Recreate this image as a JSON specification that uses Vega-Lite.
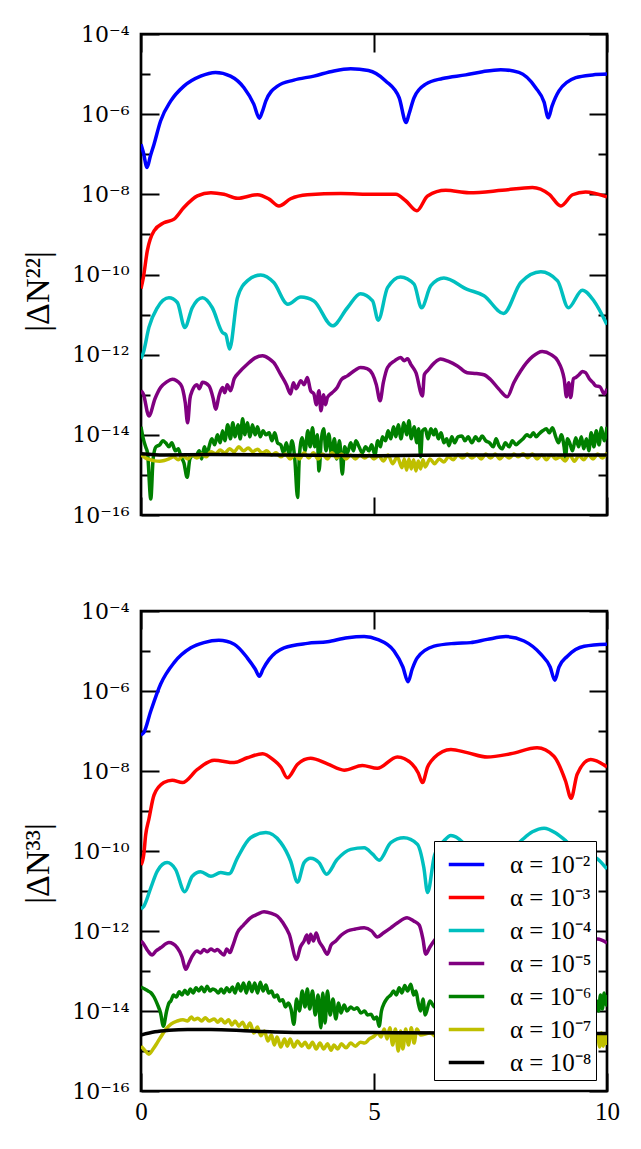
{
  "$schema": "https://vega.github.io/schema/vega-lite/v6.json",
  "background": "white",
  "padding": {"left": 20, "top": 21, "right": 5, "bottom": 5},
  "spacing": 70,
  "config": {
    "view": {"stroke": "black", "strokeWidth": 2.7},
    "axis": {"domain": false, "grid": false, "tickColor": "black", "tickWidth": 2, "labelFont": "Liberation Serif", "labelFontSize": 25, "labelColor": "black", "labelFlush": false, "labelOverlap": false, "titleFont": "Liberation Serif", "titleFontSize": 34, "titleFontWeight": "normal", "titleColor": "black", "zindex": 1},
    "legend": {"strokeColor": "black", "fillColor": "white", "labelColor": "black"}
  },
  "resolve": {"legend": {"color": "independent"}},
  "datasets": {
    "n22": [
      {"k":2,"x":0,"y":1.78e-7},{"k":2,"x":0.05,"y":1.12e-7},{"k":2,"x":0.13,"y":4.68e-8},{"k":2,"x":0.2,"y":8.91e-8},{"k":2,"x":0.28,"y":1.78e-7},{"k":2,"x":0.42,"y":6.76e-7},{"k":2,"x":0.64,"y":2.14e-6},{"k":2,"x":0.92,"y":5.01e-6},{"k":2,"x":1.28,"y":8.91e-6},{"k":2,"x":1.6,"y":1.10e-5},{"k":2,"x":1.92,"y":8.91e-6},{"k":2,"x":2.21,"y":4.57e-6},{"k":2,"x":2.42,"y":1.78e-6},{"k":2,"x":2.54,"y":7.94e-7},{"k":2,"x":2.6,"y":1.12e-6},{"k":2,"x":2.68,"y":2.14e-6},{"k":2,"x":2.93,"y":5.01e-6},{"k":2,"x":3.28,"y":7.08e-6},{"k":2,"x":3.71,"y":8.91e-6},{"k":2,"x":4.14,"y":1.20e-5},{"k":2,"x":4.5,"y":1.35e-5},{"k":2,"x":4.88,"y":1.23e-5},{"k":2,"x":5.25,"y":6.76e-6},{"k":2,"x":5.54,"y":2.57e-6},{"k":2,"x":5.69,"y":6.17e-7},{"k":2,"x":5.75,"y":1e-6},{"k":2,"x":5.86,"y":2.57e-6},{"k":2,"x":6.11,"y":5.62e-6},{"k":2,"x":6.47,"y":7.76e-6},{"k":2,"x":6.97,"y":9.55e-6},{"k":2,"x":7.33,"y":1.15e-5},{"k":2,"x":7.72,"y":1.29e-5},{"k":2,"x":8.11,"y":1.10e-5},{"k":2,"x":8.47,"y":4.57e-6},{"k":2,"x":8.65,"y":2.0e-6},{"k":2,"x":8.74,"y":8.13e-7},{"k":2,"x":8.82,"y":1.58e-6},{"k":2,"x":8.97,"y":3.80e-6},{"k":2,"x":9.33,"y":8.13e-6},{"k":2,"x":9.69,"y":9.55e-6},{"k":2,"x":10,"y":1e-5},
      {"k":3,"x":0,"y":4.47e-11},{"k":3,"x":0.05,"y":8.32e-11},{"k":3,"x":0.135,"y":3.89e-10},{"k":3,"x":0.28,"y":1.23e-9},{"k":3,"x":0.49,"y":1.95e-9},{"k":3,"x":0.71,"y":2.40e-9},{"k":3,"x":0.92,"y":4.68e-9},{"k":3,"x":1.21,"y":9.12e-9},{"k":3,"x":1.5,"y":1.10e-8},{"k":3,"x":1.78,"y":1e-8},{"k":3,"x":2.07,"y":7.94e-9},{"k":3,"x":2.5,"y":9.77e-9},{"k":3,"x":2.75,"y":7.59e-9},{"k":3,"x":2.96,"y":5.13e-9},{"k":3,"x":3.21,"y":7.76e-9},{"k":3,"x":3.57,"y":9.77e-9},{"k":3,"x":4.29,"y":1.05e-8},{"k":3,"x":5.0,"y":1e-8},{"k":3,"x":5.47,"y":1e-8},{"k":3,"x":5.68,"y":6.92e-9},{"k":3,"x":5.92,"y":3.89e-9},{"k":3,"x":6.15,"y":9.12e-9},{"k":3,"x":6.54,"y":1.26e-8},{"k":3,"x":7.04,"y":1.10e-8},{"k":3,"x":7.75,"y":1.26e-8},{"k":3,"x":8.4,"y":1.48e-8},{"k":3,"x":8.76,"y":1e-8},{"k":3,"x":9.01,"y":5.13e-9},{"k":3,"x":9.26,"y":9.77e-9},{"k":3,"x":9.54,"y":1.15e-8},{"k":3,"x":10,"y":8.71e-9},
      {"k":4,"x":0,"y":7.94e-13},{"k":4,"x":0.05,"y":1.12e-12},{"k":4,"x":0.17,"y":4.79e-12},{"k":4,"x":0.35,"y":1.48e-11},{"k":4,"x":0.6,"y":2.63e-11},{"k":4,"x":0.78,"y":2.0e-11},{"k":4,"x":0.94,"y":4.79e-12},{"k":4,"x":1.1,"y":1.48e-11},{"k":4,"x":1.32,"y":2.63e-11},{"k":4,"x":1.53,"y":1.48e-11},{"k":4,"x":1.75,"y":3.55e-12},{"k":4,"x":1.82,"y":3.16e-12},{"k":4,"x":1.9,"y":1.38e-12},{"k":4,"x":2.07,"y":2.63e-11},{"k":4,"x":2.28,"y":6.92e-11},{"k":4,"x":2.57,"y":9.77e-11},{"k":4,"x":2.85,"y":6.31e-11},{"k":4,"x":3.15,"y":1.82e-11},{"k":4,"x":3.43,"y":2.75e-11},{"k":4,"x":3.71,"y":2.19e-11},{"k":4,"x":4.11,"y":5.25e-12},{"k":4,"x":4.43,"y":1.48e-11},{"k":4,"x":4.71,"y":3.31e-11},{"k":4,"x":4.97,"y":2.19e-11},{"k":4,"x":5.09,"y":7.24e-12},{"k":4,"x":5.29,"y":4.68e-11},{"k":4,"x":5.57,"y":8.71e-11},{"k":4,"x":5.86,"y":5.75e-11},{"k":4,"x":6.02,"y":1.48e-11},{"k":4,"x":6.22,"y":5.25e-11},{"k":4,"x":6.5,"y":8.13e-11},{"k":4,"x":7.0,"y":4.27e-11},{"k":4,"x":7.36,"y":2.95e-11},{"k":4,"x":7.78,"y":1.07e-11},{"k":4,"x":8.15,"y":6.31e-11},{"k":4,"x":8.58,"y":1.17e-10},{"k":4,"x":8.94,"y":6.92e-11},{"k":4,"x":9.17,"y":1.48e-11},{"k":4,"x":9.47,"y":4.07e-11},{"k":4,"x":9.72,"y":2.19e-11},{"k":4,"x":10,"y":5.62e-12},
      {"k":5,"x":0,"y":1.26e-13},{"k":5,"x":0.05,"y":1.05e-13},{"k":5,"x":0.17,"y":2.95e-14},{"k":5,"x":0.3,"y":7.94e-14},{"k":5,"x":0.42,"y":1.51e-13},{"k":5,"x":0.55,"y":2.09e-13},{"k":5,"x":0.67,"y":2.45e-13},{"k":5,"x":0.85,"y":1.82e-13},{"k":5,"x":0.95,"y":6.31e-14},{"k":5,"x":1.0,"y":2.0e-14},{"k":5,"x":1.05,"y":7.94e-14},{"k":5,"x":1.1,"y":1.26e-13},{"k":5,"x":1.2,"y":1.78e-13},{"k":5,"x":1.25,"y":1.41e-13},{"k":5,"x":1.32,"y":2.04e-13},{"k":5,"x":1.46,"y":1.66e-13},{"k":5,"x":1.55,"y":7.94e-14},{"k":5,"x":1.6,"y":4.37e-14},{"k":5,"x":1.68,"y":1.0e-13},{"k":5,"x":1.75,"y":1.51e-13},{"k":5,"x":1.8,"y":1.12e-13},{"k":5,"x":1.85,"y":1.78e-13},{"k":5,"x":1.92,"y":1.26e-13},{"k":5,"x":2.0,"y":2.51e-13},{"k":5,"x":2.1,"y":3.55e-13},{"k":5,"x":2.28,"y":5.75e-13},{"k":5,"x":2.45,"y":8.32e-13},{"k":5,"x":2.61,"y":9.33e-13},{"k":5,"x":2.75,"y":7.94e-13},{"k":5,"x":2.85,"y":6.31e-13},{"k":5,"x":3.0,"y":3.16e-13},{"k":5,"x":3.12,"y":1.78e-13},{"k":5,"x":3.21,"y":1.05e-13},{"k":5,"x":3.27,"y":2.0e-13},{"k":5,"x":3.33,"y":1.41e-13},{"k":5,"x":3.43,"y":2.24e-13},{"k":5,"x":3.5,"y":1.78e-13},{"k":5,"x":3.57,"y":2.69e-13},{"k":5,"x":3.64,"y":1.26e-13},{"k":5,"x":3.71,"y":1.05e-13},{"k":5,"x":3.76,"y":5.62e-14},{"k":5,"x":3.82,"y":1.26e-13},{"k":5,"x":3.86,"y":3.98e-14},{"k":5,"x":3.92,"y":1.0e-13},{"k":5,"x":3.96,"y":5.62e-14},{"k":5,"x":4.0,"y":8.51e-14},{"k":5,"x":4.1,"y":1.12e-13},{"k":5,"x":4.21,"y":1.51e-13},{"k":5,"x":4.3,"y":2.40e-13},{"k":5,"x":4.43,"y":2.95e-13},{"k":5,"x":4.6,"y":4.17e-13},{"k":5,"x":4.71,"y":4.79e-13},{"k":5,"x":4.85,"y":4.47e-13},{"k":5,"x":4.97,"y":3.24e-13},{"k":5,"x":5.05,"y":1.78e-13},{"k":5,"x":5.13,"y":7.08e-14},{"k":5,"x":5.2,"y":2.0e-13},{"k":5,"x":5.29,"y":4.79e-13},{"k":5,"x":5.45,"y":7.08e-13},{"k":5,"x":5.57,"y":8.51e-13},{"k":5,"x":5.65,"y":7.08e-13},{"k":5,"x":5.72,"y":7.94e-13},{"k":5,"x":5.79,"y":5.75e-13},{"k":5,"x":5.9,"y":3.55e-13},{"k":5,"x":6.04,"y":9.33e-14},{"k":5,"x":6.08,"y":3.16e-13},{"k":5,"x":6.15,"y":3.98e-13},{"k":5,"x":6.3,"y":6.31e-13},{"k":5,"x":6.43,"y":7.76e-13},{"k":5,"x":6.6,"y":6.76e-13},{"k":5,"x":6.79,"y":5.25e-13},{"k":5,"x":7.0,"y":3.55e-13},{"k":5,"x":7.2,"y":3.39e-13},{"k":5,"x":7.36,"y":3.16e-13},{"k":5,"x":7.5,"y":2.40e-13},{"k":5,"x":7.68,"y":1.38e-13},{"k":5,"x":7.86,"y":8.91e-14},{"k":5,"x":8.0,"y":2.0e-13},{"k":5,"x":8.15,"y":3.98e-13},{"k":5,"x":8.4,"y":8.91e-13},{"k":5,"x":8.61,"y":1.20e-12},{"k":5,"x":8.8,"y":1.0e-12},{"k":5,"x":8.94,"y":7.08e-13},{"k":5,"x":9.08,"y":2.51e-13},{"k":5,"x":9.13,"y":8.91e-14},{"k":5,"x":9.18,"y":2.0e-13},{"k":5,"x":9.22,"y":8.51e-14},{"k":5,"x":9.28,"y":2.51e-13},{"k":5,"x":9.33,"y":2.69e-13},{"k":5,"x":9.4,"y":3.16e-13},{"k":5,"x":9.47,"y":3.80e-13},{"k":5,"x":9.54,"y":3.55e-13},{"k":5,"x":9.62,"y":2.51e-13},{"k":5,"x":9.7,"y":2.0e-13},{"k":5,"x":9.76,"y":1.66e-13},{"k":5,"x":9.85,"y":1.58e-13},{"k":5,"x":9.94,"y":1.05e-13},{"k":5,"x":10,"y":1.41e-13},
      {"k":6,"x":0,"y":1.58e-14},{"k":6,"x":0.05,"y":7.94e-15},{"k":6,"x":0.1,"y":5.01e-15},{"k":6,"x":0.14,"y":3.55e-15},{"k":6,"x":0.21,"y":2.51e-16},{"k":6,"x":0.26,"y":2.51e-15},{"k":6,"x":0.32,"y":5.01e-15},{"k":6,"x":0.4,"y":5.62e-15},{"k":6,"x":0.47,"y":7.08e-15},{"k":6,"x":0.53,"y":6.31e-15},{"k":6,"x":0.6,"y":5.01e-15},{"k":6,"x":0.66,"y":6.31e-15},{"k":6,"x":0.74,"y":3.98e-15},{"k":6,"x":0.8,"y":4.47e-15},{"k":6,"x":0.86,"y":2.82e-15},{"k":6,"x":0.92,"y":2.0e-15},{"k":6,"x":0.99,"y":8.71e-16},{"k":6,"x":1.05,"y":2.51e-15},{"k":6,"x":1.12,"y":3.16e-15},{"k":6,"x":1.17,"y":2.82e-15},{"k":6,"x":1.25,"y":3.98e-15},{"k":6,"x":1.3,"y":2.51e-15},{"k":6,"x":1.36,"y":5.01e-15},{"k":6,"x":1.42,"y":3.16e-15},{"k":6,"x":1.46,"y":5.01e-15},{"k":6,"x":1.52,"y":7.94e-15},{"k":6,"x":1.58,"y":5.62e-15},{"k":6,"x":1.64,"y":1.0e-14},{"k":6,"x":1.7,"y":6.31e-15},{"k":6,"x":1.75,"y":1.26e-14},{"k":6,"x":1.8,"y":7.08e-15},{"k":6,"x":1.86,"y":1.78e-14},{"k":6,"x":1.92,"y":7.94e-15},{"k":6,"x":1.97,"y":2.0e-14},{"k":6,"x":2.02,"y":8.91e-15},{"k":6,"x":2.08,"y":1.78e-14},{"k":6,"x":2.13,"y":7.94e-15},{"k":6,"x":2.18,"y":2.51e-14},{"k":6,"x":2.23,"y":1.0e-14},{"k":6,"x":2.28,"y":2.0e-14},{"k":6,"x":2.34,"y":8.91e-15},{"k":6,"x":2.39,"y":1.78e-14},{"k":6,"x":2.45,"y":1.0e-14},{"k":6,"x":2.5,"y":1.58e-14},{"k":6,"x":2.56,"y":8.91e-15},{"k":6,"x":2.62,"y":1.26e-14},{"k":6,"x":2.68,"y":1.0e-14},{"k":6,"x":2.75,"y":1.12e-14},{"k":6,"x":2.81,"y":7.08e-15},{"k":6,"x":2.87,"y":1.12e-14},{"k":6,"x":2.93,"y":6.31e-15},{"k":6,"x":3.0,"y":5.62e-15},{"k":6,"x":3.06,"y":3.55e-15},{"k":6,"x":3.12,"y":6.31e-15},{"k":6,"x":3.18,"y":3.16e-15},{"k":6,"x":3.24,"y":7.08e-15},{"k":6,"x":3.3,"y":2.51e-15},{"k":6,"x":3.36,"y":2.75e-16},{"k":6,"x":3.4,"y":3.16e-15},{"k":6,"x":3.46,"y":8.51e-15},{"k":6,"x":3.52,"y":3.98e-15},{"k":6,"x":3.58,"y":1.26e-14},{"k":6,"x":3.63,"y":5.01e-15},{"k":6,"x":3.68,"y":1.51e-14},{"k":6,"x":3.73,"y":5.01e-15},{"k":6,"x":3.78,"y":1.0e-14},{"k":6,"x":3.82,"y":1.26e-15},{"k":6,"x":3.87,"y":7.94e-15},{"k":6,"x":3.92,"y":1.41e-14},{"k":6,"x":3.97,"y":3.98e-15},{"k":6,"x":4.03,"y":1.05e-14},{"k":6,"x":4.09,"y":3.16e-15},{"k":6,"x":4.15,"y":7.94e-15},{"k":6,"x":4.2,"y":2.51e-15},{"k":6,"x":4.26,"y":7.08e-15},{"k":6,"x":4.32,"y":1.05e-15},{"k":6,"x":4.37,"y":5.01e-15},{"k":6,"x":4.43,"y":3.55e-15},{"k":6,"x":4.5,"y":6.31e-15},{"k":6,"x":4.56,"y":3.98e-15},{"k":6,"x":4.61,"y":7.08e-15},{"k":6,"x":4.68,"y":5.01e-15},{"k":6,"x":4.75,"y":3.55e-15},{"k":6,"x":4.82,"y":5.01e-15},{"k":6,"x":4.89,"y":3.98e-15},{"k":6,"x":4.95,"y":5.62e-15},{"k":6,"x":5.02,"y":3.16e-15},{"k":6,"x":5.08,"y":7.08e-15},{"k":6,"x":5.14,"y":5.01e-15},{"k":6,"x":5.18,"y":8.91e-15},{"k":6,"x":5.25,"y":7.08e-15},{"k":6,"x":5.3,"y":1.26e-14},{"k":6,"x":5.36,"y":7.94e-15},{"k":6,"x":5.42,"y":1.58e-14},{"k":6,"x":5.47,"y":8.91e-15},{"k":6,"x":5.52,"y":1.78e-14},{"k":6,"x":5.58,"y":7.94e-15},{"k":6,"x":5.64,"y":2.0e-14},{"k":6,"x":5.7,"y":1.0e-14},{"k":6,"x":5.75,"y":2.24e-14},{"k":6,"x":5.8,"y":7.94e-15},{"k":6,"x":5.86,"y":1.58e-14},{"k":6,"x":5.92,"y":6.31e-15},{"k":6,"x":5.96,"y":1.41e-14},{"k":6,"x":6.0,"y":2.82e-15},{"k":6,"x":6.04,"y":1.26e-14},{"k":6,"x":6.1,"y":1.41e-14},{"k":6,"x":6.16,"y":7.94e-15},{"k":6,"x":6.22,"y":1.41e-14},{"k":6,"x":6.28,"y":1.0e-14},{"k":6,"x":6.32,"y":1.38e-14},{"k":6,"x":6.38,"y":7.94e-15},{"k":6,"x":6.44,"y":1.12e-14},{"k":6,"x":6.5,"y":6.31e-15},{"k":6,"x":6.56,"y":7.94e-15},{"k":6,"x":6.61,"y":5.37e-15},{"k":6,"x":6.67,"y":8.91e-15},{"k":6,"x":6.73,"y":6.31e-15},{"k":6,"x":6.8,"y":8.91e-15},{"k":6,"x":6.89,"y":9.33e-15},{"k":6,"x":6.95,"y":7.08e-15},{"k":6,"x":7.02,"y":8.91e-15},{"k":6,"x":7.1,"y":6.31e-15},{"k":6,"x":7.18,"y":8.91e-15},{"k":6,"x":7.25,"y":7.08e-15},{"k":6,"x":7.32,"y":9.33e-15},{"k":6,"x":7.4,"y":7.08e-15},{"k":6,"x":7.48,"y":6.31e-15},{"k":6,"x":7.56,"y":5.01e-15},{"k":6,"x":7.62,"y":7.94e-15},{"k":6,"x":7.68,"y":5.37e-15},{"k":6,"x":7.75,"y":4.47e-15},{"k":6,"x":7.82,"y":6.31e-15},{"k":6,"x":7.9,"y":5.01e-15},{"k":6,"x":7.97,"y":7.08e-15},{"k":6,"x":8.05,"y":5.62e-15},{"k":6,"x":8.11,"y":6.46e-15},{"k":6,"x":8.2,"y":7.94e-15},{"k":6,"x":8.28,"y":1.0e-14},{"k":6,"x":8.35,"y":8.91e-15},{"k":6,"x":8.42,"y":1.12e-14},{"k":6,"x":8.48,"y":8.91e-15},{"k":6,"x":8.54,"y":1.05e-14},{"k":6,"x":8.62,"y":1.26e-14},{"k":6,"x":8.7,"y":1.41e-14},{"k":6,"x":8.76,"y":1.12e-14},{"k":6,"x":8.83,"y":1.51e-14},{"k":6,"x":8.9,"y":8.91e-15},{"k":6,"x":8.96,"y":6.31e-15},{"k":6,"x":9.02,"y":1.0e-14},{"k":6,"x":9.08,"y":5.01e-15},{"k":6,"x":9.11,"y":2.69e-15},{"k":6,"x":9.15,"y":7.94e-15},{"k":6,"x":9.2,"y":6.31e-15},{"k":6,"x":9.26,"y":3.98e-15},{"k":6,"x":9.33,"y":8.51e-15},{"k":6,"x":9.39,"y":5.01e-15},{"k":6,"x":9.45,"y":8.91e-15},{"k":6,"x":9.5,"y":4.47e-15},{"k":6,"x":9.56,"y":7.94e-15},{"k":6,"x":9.61,"y":3.98e-15},{"k":6,"x":9.66,"y":1.12e-14},{"k":6,"x":9.72,"y":5.01e-15},{"k":6,"x":9.77,"y":1.26e-14},{"k":6,"x":9.83,"y":5.62e-15},{"k":6,"x":9.88,"y":1.51e-14},{"k":6,"x":9.94,"y":7.08e-15},{"k":6,"x":10,"y":1.58e-14},
      {"k":7,"x":0,"y":3.16e-15},{"k":7,"x":0.1,"y":2.63e-15},{"k":7,"x":0.2,"y":2.40e-15},{"k":7,"x":0.3,"y":2.24e-15},{"k":7,"x":0.4,"y":2.19e-15},{"k":7,"x":0.5,"y":2.29e-15},{"k":7,"x":0.6,"y":2.51e-15},{"k":7,"x":0.7,"y":2.82e-15},{"k":7,"x":0.8,"y":2.40e-15},{"k":7,"x":0.9,"y":3.02e-15},{"k":7,"x":1.0,"y":2.51e-15},{"k":7,"x":1.1,"y":3.16e-15},{"k":7,"x":1.2,"y":2.63e-15},{"k":7,"x":1.3,"y":3.31e-15},{"k":7,"x":1.4,"y":2.82e-15},{"k":7,"x":1.5,"y":3.80e-15},{"k":7,"x":1.6,"y":3.39e-15},{"k":7,"x":1.7,"y":4.17e-15},{"k":7,"x":1.8,"y":3.55e-15},{"k":7,"x":1.9,"y":4.47e-15},{"k":7,"x":2.0,"y":3.80e-15},{"k":7,"x":2.1,"y":5.01e-15},{"k":7,"x":2.2,"y":3.98e-15},{"k":7,"x":2.3,"y":4.68e-15},{"k":7,"x":2.4,"y":3.80e-15},{"k":7,"x":2.5,"y":4.37e-15},{"k":7,"x":2.6,"y":3.55e-15},{"k":7,"x":2.7,"y":3.98e-15},{"k":7,"x":2.8,"y":3.16e-15},{"k":7,"x":2.9,"y":3.55e-15},{"k":7,"x":3.0,"y":2.82e-15},{"k":7,"x":3.1,"y":3.31e-15},{"k":7,"x":3.2,"y":2.51e-15},{"k":7,"x":3.3,"y":3.16e-15},{"k":7,"x":3.4,"y":2.51e-15},{"k":7,"x":3.5,"y":3.55e-15},{"k":7,"x":3.6,"y":2.63e-15},{"k":7,"x":3.7,"y":3.55e-15},{"k":7,"x":3.8,"y":2.51e-15},{"k":7,"x":3.9,"y":3.31e-15},{"k":7,"x":4.0,"y":2.51e-15},{"k":7,"x":4.1,"y":3.55e-15},{"k":7,"x":4.2,"y":2.63e-15},{"k":7,"x":4.3,"y":3.31e-15},{"k":7,"x":4.4,"y":2.51e-15},{"k":7,"x":4.5,"y":3.16e-15},{"k":7,"x":4.6,"y":2.51e-15},{"k":7,"x":4.7,"y":3.16e-15},{"k":7,"x":4.8,"y":2.63e-15},{"k":7,"x":4.9,"y":3.16e-15},{"k":7,"x":5.0,"y":2.51e-15},{"k":7,"x":5.1,"y":3.02e-15},{"k":7,"x":5.2,"y":2.24e-15},{"k":7,"x":5.3,"y":3.16e-15},{"k":7,"x":5.4,"y":1.91e-15},{"k":7,"x":5.5,"y":2.82e-15},{"k":7,"x":5.6,"y":1.51e-15},{"k":7,"x":5.65,"y":2.51e-15},{"k":7,"x":5.7,"y":1.32e-15},{"k":7,"x":5.75,"y":2.51e-15},{"k":7,"x":5.8,"y":1.41e-15},{"k":7,"x":5.85,"y":2.40e-15},{"k":7,"x":5.9,"y":1.26e-15},{"k":7,"x":5.95,"y":2.24e-15},{"k":7,"x":6.0,"y":1.41e-15},{"k":7,"x":6.05,"y":2.40e-15},{"k":7,"x":6.1,"y":1.58e-15},{"k":7,"x":6.2,"y":2.51e-15},{"k":7,"x":6.3,"y":1.91e-15},{"k":7,"x":6.4,"y":2.51e-15},{"k":7,"x":6.5,"y":2.09e-15},{"k":7,"x":6.6,"y":2.82e-15},{"k":7,"x":6.7,"y":2.40e-15},{"k":7,"x":6.8,"y":3.16e-15},{"k":7,"x":6.9,"y":2.63e-15},{"k":7,"x":7.0,"y":3.31e-15},{"k":7,"x":7.1,"y":2.63e-15},{"k":7,"x":7.2,"y":3.16e-15},{"k":7,"x":7.3,"y":2.51e-15},{"k":7,"x":7.4,"y":3.31e-15},{"k":7,"x":7.5,"y":2.63e-15},{"k":7,"x":7.6,"y":3.31e-15},{"k":7,"x":7.7,"y":2.51e-15},{"k":7,"x":7.8,"y":3.16e-15},{"k":7,"x":7.9,"y":2.63e-15},{"k":7,"x":8.0,"y":3.31e-15},{"k":7,"x":8.1,"y":2.82e-15},{"k":7,"x":8.2,"y":3.39e-15},{"k":7,"x":8.3,"y":2.69e-15},{"k":7,"x":8.4,"y":3.31e-15},{"k":7,"x":8.5,"y":2.51e-15},{"k":7,"x":8.6,"y":3.16e-15},{"k":7,"x":8.7,"y":2.40e-15},{"k":7,"x":8.8,"y":3.16e-15},{"k":7,"x":8.9,"y":2.51e-15},{"k":7,"x":9.0,"y":2.82e-15},{"k":7,"x":9.1,"y":2.24e-15},{"k":7,"x":9.2,"y":3.16e-15},{"k":7,"x":9.3,"y":2.19e-15},{"k":7,"x":9.4,"y":3.02e-15},{"k":7,"x":9.5,"y":2.40e-15},{"k":7,"x":9.6,"y":3.16e-15},{"k":7,"x":9.7,"y":2.51e-15},{"k":7,"x":9.8,"y":3.31e-15},{"k":7,"x":9.9,"y":2.63e-15},{"k":7,"x":10,"y":3.55e-15},
      {"k":8,"x":0,"y":3.39e-15},{"k":8,"x":0.5,"y":3.16e-15},{"k":8,"x":1.5,"y":3.24e-15},{"k":8,"x":3,"y":3.16e-15},{"k":8,"x":5,"y":3.02e-15},{"k":8,"x":7,"y":3.16e-15},{"k":8,"x":10,"y":3.16e-15}
    ],
    "n33": [
      {"k":2,"x":0,"y":7.94e-8},{"k":2,"x":0.06,"y":9.12e-8},{"k":2,"x":0.21,"y":3.16e-7},{"k":2,"x":0.42,"y":1.48e-6},{"k":2,"x":0.71,"y":5.13e-6},{"k":2,"x":1.07,"y":1.20e-5},{"k":2,"x":1.35,"y":1.62e-5},{"k":2,"x":1.67,"y":1.86e-5},{"k":2,"x":2.0,"y":1.48e-5},{"k":2,"x":2.28,"y":6.76e-6},{"k":2,"x":2.45,"y":3.55e-6},{"k":2,"x":2.54,"y":2.34e-6},{"k":2,"x":2.62,"y":3.55e-6},{"k":2,"x":2.75,"y":6.17e-6},{"k":2,"x":3.07,"y":1.20e-5},{"k":2,"x":3.57,"y":1.55e-5},{"k":2,"x":4.0,"y":1.70e-5},{"k":2,"x":4.43,"y":2.14e-5},{"k":2,"x":4.79,"y":2.29e-5},{"k":2,"x":5.07,"y":1.95e-5},{"k":2,"x":5.43,"y":1.0e-5},{"k":2,"x":5.62,"y":3.98e-6},{"k":2,"x":5.73,"y":1.70e-6},{"k":2,"x":5.82,"y":3.55e-6},{"k":2,"x":5.93,"y":6.76e-6},{"k":2,"x":6.29,"y":1.32e-5},{"k":2,"x":6.72,"y":1.55e-5},{"k":2,"x":7.07,"y":1.62e-5},{"k":2,"x":7.43,"y":1.95e-5},{"k":2,"x":7.83,"y":2.29e-5},{"k":2,"x":8.22,"y":1.78e-5},{"k":2,"x":8.58,"y":8.32e-6},{"k":2,"x":8.78,"y":3.98e-6},{"k":2,"x":8.88,"y":1.86e-6},{"k":2,"x":8.97,"y":3.98e-6},{"k":2,"x":9.15,"y":7.41e-6},{"k":2,"x":9.51,"y":1.32e-5},{"k":2,"x":10,"y":1.48e-5},
      {"k":3,"x":0,"y":4.47e-11},{"k":3,"x":0.06,"y":8.32e-11},{"k":3,"x":0.1,"y":2.51e-10},{"k":3,"x":0.17,"y":6.31e-10},{"k":3,"x":0.28,"y":2.51e-9},{"k":3,"x":0.49,"y":5.13e-9},{"k":3,"x":0.67,"y":5.89e-9},{"k":3,"x":0.89,"y":5.13e-9},{"k":3,"x":1.21,"y":1.10e-8},{"k":3,"x":1.57,"y":1.86e-8},{"k":3,"x":2.0,"y":1.62e-8},{"k":3,"x":2.28,"y":2.14e-8},{"k":3,"x":2.61,"y":2.69e-8},{"k":3,"x":2.85,"y":1.86e-8},{"k":3,"x":3.0,"y":1.26e-8},{"k":3,"x":3.14,"y":6.76e-9},{"k":3,"x":3.36,"y":1.48e-8},{"k":3,"x":3.64,"y":2.09e-8},{"k":3,"x":4.0,"y":1.51e-8},{"k":3,"x":4.36,"y":1.05e-8},{"k":3,"x":4.75,"y":1.38e-8},{"k":3,"x":5.07,"y":1.17e-8},{"k":3,"x":5.5,"y":2.24e-8},{"k":3,"x":5.82,"y":1.48e-8},{"k":3,"x":5.95,"y":8.91e-9},{"k":3,"x":6.04,"y":5.13e-9},{"k":3,"x":6.15,"y":1.26e-8},{"k":3,"x":6.29,"y":2.14e-8},{"k":3,"x":6.65,"y":3.47e-8},{"k":3,"x":7.0,"y":2.88e-8},{"k":3,"x":7.43,"y":2.24e-8},{"k":3,"x":7.93,"y":2.69e-8},{"k":3,"x":8.5,"y":3.80e-8},{"k":3,"x":8.86,"y":2.34e-8},{"k":3,"x":9.11,"y":5.62e-9},{"k":3,"x":9.23,"y":2.09e-9},{"k":3,"x":9.36,"y":8.32e-9},{"k":3,"x":9.65,"y":1.95e-8},{"k":3,"x":10,"y":1.26e-8},
      {"k":4,"x":0,"y":3.55e-12},{"k":4,"x":0.06,"y":4.17e-12},{"k":4,"x":0.21,"y":1.20e-11},{"k":4,"x":0.35,"y":3.16e-11},{"k":4,"x":0.56,"y":5.13e-11},{"k":4,"x":0.74,"y":3.47e-11},{"k":4,"x":0.94,"y":9.55e-12},{"k":4,"x":1.1,"y":2.34e-11},{"k":4,"x":1.28,"y":3.02e-11},{"k":4,"x":1.5,"y":2.34e-11},{"k":4,"x":1.71,"y":2.88e-11},{"k":4,"x":1.89,"y":2.69e-11},{"k":4,"x":2.07,"y":6.76e-11},{"k":4,"x":2.35,"y":2.14e-10},{"k":4,"x":2.68,"y":2.88e-10},{"k":4,"x":3.0,"y":1.62e-10},{"k":4,"x":3.21,"y":5.62e-11},{"k":4,"x":3.36,"y":1.66e-11},{"k":4,"x":3.5,"y":5.13e-11},{"k":4,"x":3.64,"y":6.61e-11},{"k":4,"x":3.82,"y":5.13e-11},{"k":4,"x":3.98,"y":2.63e-11},{"k":4,"x":4.21,"y":6.17e-11},{"k":4,"x":4.5,"y":1.10e-10},{"k":4,"x":4.79,"y":1.20e-10},{"k":4,"x":4.97,"y":8.32e-11},{"k":4,"x":5.11,"y":5.89e-11},{"k":4,"x":5.36,"y":1.62e-10},{"k":4,"x":5.64,"y":2.14e-10},{"k":4,"x":5.93,"y":1.48e-10},{"k":4,"x":6.07,"y":3.80e-11},{"k":4,"x":6.15,"y":9.12e-12},{"k":4,"x":6.3,"y":7.94e-11},{"k":4,"x":6.5,"y":1.78e-10},{"k":4,"x":6.65,"y":2.45e-10},{"k":4,"x":6.9,"y":1.66e-10},{"k":4,"x":7.15,"y":6.31e-11},{"k":4,"x":7.35,"y":3.16e-11},{"k":4,"x":7.6,"y":7.08e-11},{"k":4,"x":7.9,"y":1.0e-10},{"k":4,"x":8.15,"y":1.78e-10},{"k":4,"x":8.4,"y":3.02e-10},{"k":4,"x":8.65,"y":3.72e-10},{"k":4,"x":8.9,"y":2.82e-10},{"k":4,"x":9.12,"y":1.78e-10},{"k":4,"x":9.35,"y":1.0e-10},{"k":4,"x":9.55,"y":7.94e-11},{"k":4,"x":9.76,"y":6.76e-11},{"k":4,"x":9.94,"y":4.27e-11},{"k":4,"x":10,"y":3.55e-11},
      {"k":5,"x":0,"y":5.62e-13},{"k":5,"x":0.06,"y":4.68e-13},{"k":5,"x":0.15,"y":3.16e-13},{"k":5,"x":0.24,"y":2.51e-13},{"k":5,"x":0.32,"y":3.16e-13},{"k":5,"x":0.42,"y":3.80e-13},{"k":5,"x":0.6,"y":5.13e-13},{"k":5,"x":0.78,"y":3.80e-13},{"k":5,"x":0.88,"y":2.24e-13},{"k":5,"x":0.96,"y":1.10e-13},{"k":5,"x":1.03,"y":1.58e-13},{"k":5,"x":1.1,"y":2.34e-13},{"k":5,"x":1.2,"y":3.16e-13},{"k":5,"x":1.28,"y":2.82e-13},{"k":5,"x":1.35,"y":3.47e-13},{"k":5,"x":1.42,"y":3.02e-13},{"k":5,"x":1.5,"y":3.55e-13},{"k":5,"x":1.58,"y":3.16e-13},{"k":5,"x":1.64,"y":3.47e-13},{"k":5,"x":1.72,"y":2.82e-13},{"k":5,"x":1.78,"y":2.51e-13},{"k":5,"x":1.84,"y":3.55e-13},{"k":5,"x":1.91,"y":2.88e-13},{"k":5,"x":1.96,"y":3.98e-13},{"k":5,"x":2.07,"y":9.12e-13},{"k":5,"x":2.2,"y":1.41e-12},{"k":5,"x":2.35,"y":2.14e-12},{"k":5,"x":2.5,"y":2.63e-12},{"k":5,"x":2.64,"y":3.02e-12},{"k":5,"x":2.8,"y":2.75e-12},{"k":5,"x":2.93,"y":2.34e-12},{"k":5,"x":3.05,"y":1.58e-12},{"k":5,"x":3.18,"y":8.32e-13},{"k":5,"x":3.34,"y":1.95e-13},{"k":5,"x":3.42,"y":3.98e-13},{"k":5,"x":3.5,"y":5.62e-13},{"k":5,"x":3.56,"y":7.94e-13},{"k":5,"x":3.6,"y":5.01e-13},{"k":5,"x":3.64,"y":8.32e-13},{"k":5,"x":3.7,"y":5.62e-13},{"k":5,"x":3.76,"y":8.91e-13},{"k":5,"x":3.82,"y":5.62e-13},{"k":5,"x":3.9,"y":3.98e-13},{"k":5,"x":4.0,"y":2.63e-13},{"k":5,"x":4.08,"y":4.47e-13},{"k":5,"x":4.18,"y":5.62e-13},{"k":5,"x":4.3,"y":7.94e-13},{"k":5,"x":4.43,"y":1.0e-12},{"k":5,"x":4.6,"y":1.12e-12},{"k":5,"x":4.79,"y":1.20e-12},{"k":5,"x":4.95,"y":1.0e-12},{"k":5,"x":5.07,"y":7.08e-13},{"k":5,"x":5.2,"y":8.91e-13},{"k":5,"x":5.36,"y":1.20e-12},{"k":5,"x":5.5,"y":1.58e-12},{"k":5,"x":5.71,"y":2.14e-12},{"k":5,"x":5.85,"y":1.78e-12},{"k":5,"x":5.97,"y":1.41e-12},{"k":5,"x":6.05,"y":6.31e-13},{"k":5,"x":6.11,"y":2.63e-13},{"k":5,"x":6.2,"y":3.98e-13},{"k":5,"x":6.35,"y":7.08e-13},{"k":5,"x":6.6,"y":1.26e-12},{"k":5,"x":6.85,"y":1.12e-12},{"k":5,"x":7.1,"y":7.08e-13},{"k":5,"x":7.4,"y":3.55e-13},{"k":5,"x":7.7,"y":7.94e-13},{"k":5,"x":8.0,"y":1.41e-12},{"k":5,"x":8.3,"y":1.78e-12},{"k":5,"x":8.6,"y":2.0e-12},{"k":5,"x":8.85,"y":1.41e-12},{"k":5,"x":9.05,"y":7.94e-13},{"k":5,"x":9.3,"y":2.82e-13},{"k":5,"x":9.55,"y":5.62e-13},{"k":5,"x":9.8,"y":6.31e-13},{"k":5,"x":10,"y":5.01e-13},
      {"k":6,"x":0,"y":3.98e-14},{"k":6,"x":0.08,"y":3.55e-14},{"k":6,"x":0.15,"y":3.16e-14},{"k":6,"x":0.21,"y":2.88e-14},{"k":6,"x":0.28,"y":2.24e-14},{"k":6,"x":0.35,"y":1.48e-14},{"k":6,"x":0.42,"y":8.91e-15},{"k":6,"x":0.48,"y":4.17e-15},{"k":6,"x":0.55,"y":1.0e-14},{"k":6,"x":0.6,"y":1.58e-14},{"k":6,"x":0.64,"y":1.78e-14},{"k":6,"x":0.7,"y":2.51e-14},{"k":6,"x":0.76,"y":2.24e-14},{"k":6,"x":0.82,"y":3.02e-14},{"k":6,"x":0.88,"y":2.51e-14},{"k":6,"x":0.94,"y":3.31e-14},{"k":6,"x":1.0,"y":2.63e-14},{"k":6,"x":1.06,"y":3.55e-14},{"k":6,"x":1.12,"y":2.82e-14},{"k":6,"x":1.18,"y":3.80e-14},{"k":6,"x":1.24,"y":3.16e-14},{"k":6,"x":1.3,"y":3.98e-14},{"k":6,"x":1.36,"y":3.02e-14},{"k":6,"x":1.42,"y":4.17e-14},{"k":6,"x":1.48,"y":3.16e-14},{"k":6,"x":1.54,"y":3.55e-14},{"k":6,"x":1.6,"y":3.31e-14},{"k":6,"x":1.66,"y":2.82e-14},{"k":6,"x":1.72,"y":3.55e-14},{"k":6,"x":1.78,"y":2.82e-14},{"k":6,"x":1.84,"y":3.80e-14},{"k":6,"x":1.9,"y":3.02e-14},{"k":6,"x":1.96,"y":3.98e-14},{"k":6,"x":2.02,"y":2.82e-14},{"k":6,"x":2.08,"y":4.79e-14},{"k":6,"x":2.14,"y":3.16e-14},{"k":6,"x":2.2,"y":5.01e-14},{"k":6,"x":2.26,"y":2.82e-14},{"k":6,"x":2.32,"y":5.25e-14},{"k":6,"x":2.38,"y":3.02e-14},{"k":6,"x":2.44,"y":5.01e-14},{"k":6,"x":2.5,"y":2.82e-14},{"k":6,"x":2.56,"y":5.25e-14},{"k":6,"x":2.62,"y":3.16e-14},{"k":6,"x":2.68,"y":4.47e-14},{"k":6,"x":2.74,"y":2.82e-14},{"k":6,"x":2.8,"y":3.16e-14},{"k":6,"x":2.86,"y":2.24e-14},{"k":6,"x":2.92,"y":2.51e-14},{"k":6,"x":2.98,"y":1.78e-14},{"k":6,"x":3.04,"y":1.91e-14},{"k":6,"x":3.1,"y":1.26e-14},{"k":6,"x":3.16,"y":1.58e-14},{"k":6,"x":3.22,"y":1.12e-14},{"k":6,"x":3.28,"y":4.68e-15},{"k":6,"x":3.34,"y":2.0e-14},{"k":6,"x":3.4,"y":1.0e-14},{"k":6,"x":3.46,"y":3.16e-14},{"k":6,"x":3.52,"y":1.26e-14},{"k":6,"x":3.57,"y":3.55e-14},{"k":6,"x":3.62,"y":1.12e-14},{"k":6,"x":3.68,"y":3.16e-14},{"k":6,"x":3.74,"y":7.94e-15},{"k":6,"x":3.8,"y":2.51e-14},{"k":6,"x":3.86,"y":3.80e-15},{"k":6,"x":3.9,"y":2.82e-14},{"k":6,"x":3.95,"y":5.01e-15},{"k":6,"x":4.0,"y":3.16e-14},{"k":6,"x":4.06,"y":7.94e-15},{"k":6,"x":4.12,"y":2.0e-14},{"k":6,"x":4.18,"y":6.31e-15},{"k":6,"x":4.24,"y":1.58e-14},{"k":6,"x":4.29,"y":8.91e-15},{"k":6,"x":4.36,"y":1.41e-14},{"k":6,"x":4.42,"y":1.0e-14},{"k":6,"x":4.5,"y":1.26e-14},{"k":6,"x":4.57,"y":1.10e-14},{"k":6,"x":4.64,"y":1.20e-14},{"k":6,"x":4.72,"y":8.91e-15},{"k":6,"x":4.8,"y":1.0e-14},{"k":6,"x":4.86,"y":7.94e-15},{"k":6,"x":4.94,"y":8.32e-15},{"k":6,"x":5.0,"y":6.31e-15},{"k":6,"x":5.06,"y":7.08e-15},{"k":6,"x":5.11,"y":4.17e-15},{"k":6,"x":5.16,"y":1.0e-14},{"k":6,"x":5.22,"y":1.58e-14},{"k":6,"x":5.29,"y":2.14e-14},{"k":6,"x":5.36,"y":2.51e-14},{"k":6,"x":5.42,"y":3.16e-14},{"k":6,"x":5.48,"y":2.51e-14},{"k":6,"x":5.54,"y":3.80e-14},{"k":6,"x":5.6,"y":2.82e-14},{"k":6,"x":5.66,"y":4.37e-14},{"k":6,"x":5.72,"y":3.16e-14},{"k":6,"x":5.79,"y":4.68e-14},{"k":6,"x":5.85,"y":2.51e-14},{"k":6,"x":5.9,"y":3.16e-14},{"k":6,"x":5.95,"y":1.58e-14},{"k":6,"x":6.0,"y":1.0e-14},{"k":6,"x":6.05,"y":2.0e-14},{"k":6,"x":6.1,"y":7.94e-15},{"k":6,"x":6.2,"y":1.78e-14},{"k":6,"x":6.3,"y":1.26e-14},{"k":6,"x":6.4,"y":1.58e-14},{"k":6,"x":6.6,"y":1.12e-14},{"k":6,"x":6.8,"y":1.41e-14},{"k":6,"x":7.0,"y":1.0e-14},{"k":6,"x":7.2,"y":1.26e-14},{"k":6,"x":7.4,"y":8.91e-15},{"k":6,"x":7.6,"y":1.41e-14},{"k":6,"x":7.8,"y":2.0e-14},{"k":6,"x":8.0,"y":2.51e-14},{"k":6,"x":8.2,"y":2.82e-14},{"k":6,"x":8.4,"y":3.16e-14},{"k":6,"x":8.6,"y":2.24e-14},{"k":6,"x":8.8,"y":1.58e-14},{"k":6,"x":9.0,"y":1.12e-14},{"k":6,"x":9.2,"y":7.94e-15},{"k":6,"x":9.4,"y":1.41e-14},{"k":6,"x":9.6,"y":2.0e-14},{"k":6,"x":9.78,"y":1.78e-14},{"k":6,"x":9.82,"y":1.0e-14},{"k":6,"x":9.86,"y":2.51e-14},{"k":6,"x":9.9,"y":1.12e-14},{"k":6,"x":9.94,"y":2.82e-14},{"k":6,"x":9.98,"y":1.41e-14},{"k":6,"x":10,"y":2.51e-14},
      {"k":7,"x":0,"y":1.32e-15},{"k":7,"x":0.08,"y":1.05e-15},{"k":7,"x":0.17,"y":8.32e-16},{"k":7,"x":0.26,"y":1.12e-15},{"k":7,"x":0.35,"y":1.62e-15},{"k":7,"x":0.44,"y":2.40e-15},{"k":7,"x":0.53,"y":3.47e-15},{"k":7,"x":0.65,"y":4.79e-15},{"k":7,"x":0.78,"y":5.62e-15},{"k":7,"x":0.9,"y":6.03e-15},{"k":7,"x":1.0,"y":5.62e-15},{"k":7,"x":1.08,"y":7.08e-15},{"k":7,"x":1.14,"y":6.03e-15},{"k":7,"x":1.22,"y":6.61e-15},{"k":7,"x":1.3,"y":5.62e-15},{"k":7,"x":1.38,"y":6.76e-15},{"k":7,"x":1.46,"y":5.62e-15},{"k":7,"x":1.57,"y":6.31e-15},{"k":7,"x":1.65,"y":5.25e-15},{"k":7,"x":1.72,"y":6.31e-15},{"k":7,"x":1.8,"y":5.01e-15},{"k":7,"x":1.88,"y":6.03e-15},{"k":7,"x":1.95,"y":4.47e-15},{"k":7,"x":2.02,"y":5.62e-15},{"k":7,"x":2.1,"y":4.17e-15},{"k":7,"x":2.18,"y":5.25e-15},{"k":7,"x":2.26,"y":3.55e-15},{"k":7,"x":2.34,"y":5.01e-15},{"k":7,"x":2.42,"y":2.82e-15},{"k":7,"x":2.5,"y":3.98e-15},{"k":7,"x":2.57,"y":2.40e-15},{"k":7,"x":2.65,"y":3.16e-15},{"k":7,"x":2.72,"y":1.78e-15},{"k":7,"x":2.8,"y":2.51e-15},{"k":7,"x":2.86,"y":1.41e-15},{"k":7,"x":2.92,"y":2.24e-15},{"k":7,"x":3.0,"y":1.26e-15},{"k":7,"x":3.08,"y":2.0e-15},{"k":7,"x":3.14,"y":1.32e-15},{"k":7,"x":3.2,"y":2.0e-15},{"k":7,"x":3.28,"y":1.26e-15},{"k":7,"x":3.36,"y":1.78e-15},{"k":7,"x":3.45,"y":1.32e-15},{"k":7,"x":3.52,"y":1.66e-15},{"k":7,"x":3.6,"y":1.20e-15},{"k":7,"x":3.68,"y":1.66e-15},{"k":7,"x":3.76,"y":1.12e-15},{"k":7,"x":3.84,"y":1.58e-15},{"k":7,"x":3.92,"y":1.12e-15},{"k":7,"x":4.0,"y":1.51e-15},{"k":7,"x":4.08,"y":1.05e-15},{"k":7,"x":4.14,"y":1.41e-15},{"k":7,"x":4.22,"y":1.12e-15},{"k":7,"x":4.3,"y":1.51e-15},{"k":7,"x":4.4,"y":1.20e-15},{"k":7,"x":4.5,"y":1.58e-15},{"k":7,"x":4.6,"y":1.32e-15},{"k":7,"x":4.71,"y":1.66e-15},{"k":7,"x":4.8,"y":1.58e-15},{"k":7,"x":4.9,"y":2.0e-15},{"k":7,"x":5.0,"y":2.34e-15},{"k":7,"x":5.08,"y":2.82e-15},{"k":7,"x":5.15,"y":2.24e-15},{"k":7,"x":5.22,"y":3.55e-15},{"k":7,"x":5.28,"y":2.0e-15},{"k":7,"x":5.34,"y":3.80e-15},{"k":7,"x":5.4,"y":1.41e-15},{"k":7,"x":5.46,"y":3.55e-15},{"k":7,"x":5.52,"y":1.0e-15},{"k":7,"x":5.57,"y":3.16e-15},{"k":7,"x":5.62,"y":1.12e-15},{"k":7,"x":5.68,"y":3.55e-15},{"k":7,"x":5.74,"y":1.41e-15},{"k":7,"x":5.8,"y":3.80e-15},{"k":7,"x":5.86,"y":1.58e-15},{"k":7,"x":5.92,"y":3.55e-15},{"k":7,"x":6.0,"y":2.51e-15},{"k":7,"x":6.2,"y":2.82e-15},{"k":7,"x":6.4,"y":2.0e-15},{"k":7,"x":6.6,"y":2.51e-15},{"k":7,"x":6.8,"y":1.78e-15},{"k":7,"x":7.0,"y":2.24e-15},{"k":7,"x":7.3,"y":1.58e-15},{"k":7,"x":7.6,"y":2.0e-15},{"k":7,"x":7.9,"y":1.78e-15},{"k":7,"x":8.2,"y":2.24e-15},{"k":7,"x":8.5,"y":2.0e-15},{"k":7,"x":8.8,"y":1.58e-15},{"k":7,"x":9.1,"y":1.78e-15},{"k":7,"x":9.4,"y":1.41e-15},{"k":7,"x":9.7,"y":1.78e-15},{"k":7,"x":9.8,"y":2.51e-15},{"k":7,"x":9.84,"y":1.26e-15},{"k":7,"x":9.88,"y":2.82e-15},{"k":7,"x":9.92,"y":1.32e-15},{"k":7,"x":9.96,"y":2.51e-15},{"k":7,"x":10,"y":1.41e-15},
      {"k":8,"x":0,"y":2.51e-15},{"k":8,"x":0.3,"y":3.02e-15},{"k":8,"x":0.6,"y":3.31e-15},{"k":8,"x":1.0,"y":3.47e-15},{"k":8,"x":1.5,"y":3.47e-15},{"k":8,"x":2.35,"y":3.16e-15},{"k":8,"x":3.43,"y":2.88e-15},{"k":8,"x":5,"y":2.88e-15},{"k":8,"x":7,"y":2.82e-15},{"k":8,"x":10,"y":2.75e-15}
    ]
  },
  "vconcat": [
    {
      "width": 466,
      "height": 481,
      "data": {"name": "n22"},
      "layer": [
        {
          "mark": {"type": "line", "strokeWidth": 3.5, "interpolate": "monotone", "clip": true},
          "encoding": {
            "x": {"field": "x", "type": "quantitative", "scale": {"domain": [0, 10], "nice": false, "zero": false},
                  "axis": {"orient": "bottom", "values": [0, 5, 10], "labels": false, "tickSize": -18, "title": null}},
            "y": {"field": "y", "type": "quantitative", "scale": {"type": "log", "domain": [1e-16, 1e-4], "nice": false},
                  "axis": {"orient": "left", "values": [1e-16, 1e-14, 1e-12, 1e-10, 1e-8, 1e-6, 1e-4], "format": ".0e",
                           "labelExpr": "datum.label == '1e-4' ? '10⁻⁴' : datum.label == '1e-6' ? '10⁻⁶' : datum.label == '1e-8' ? '10⁻⁸' : datum.label == '1e-10' ? '10⁻¹⁰' : datum.label == '1e-12' ? '10⁻¹²' : datum.label == '1e-14' ? '10⁻¹⁴' : '10⁻¹⁶'",
                           "labelFont": "DejaVu Serif", "labelFontSize": 22,
                           "tickSize": -18, "labelPadding": 30, "title": "|ΔN²²|", "titlePadding": 16, "titleY": 257}},
            "color": {"field": "k", "type": "nominal",
                      "scale": {"domain": [2, 3, 4, 5, 6, 7, 8], "range": ["#0000ff", "#ff0000", "#00bfbf", "#800080", "#008000", "#bfbf00", "#000000"]},
                      "legend": null}
          }
        },
        {
          "mark": {"type": "point", "opacity": 0},
          "encoding": {
            "x": {"field": "x", "type": "quantitative", "axis": {"orient": "top", "values": [0, 5, 10], "labels": false, "tickSize": -18, "title": null}},
            "y": {"field": "y", "type": "quantitative", "axis": {"orient": "left", "values": [1e-15, 1e-13, 1e-11, 1e-9, 1e-7, 1e-5], "labels": false, "tickSize": -9, "title": null}}
          }
        },
        {
          "mark": {"type": "point", "opacity": 0},
          "encoding": {
            "x": {"field": "x", "type": "quantitative", "axis": null},
            "y": {"field": "y", "type": "quantitative", "axis": {"orient": "right", "values": [1e-16, 1e-14, 1e-12, 1e-10, 1e-8, 1e-6, 1e-4], "labels": false, "tickSize": -18, "title": null}}
          }
        },
        {
          "mark": {"type": "point", "opacity": 0},
          "encoding": {
            "x": {"field": "x", "type": "quantitative", "axis": null},
            "y": {"field": "y", "type": "quantitative", "axis": {"orient": "right", "values": [1e-15, 1e-13, 1e-11, 1e-9, 1e-7, 1e-5], "labels": false, "tickSize": -9, "title": null}}
          }
        }
      ],
      "resolve": {"axis": {"x": "independent", "y": "independent"}}
    },
    {
      "width": 466,
      "height": 480,
      "data": {"name": "n33"},
      "layer": [
        {
          "mark": {"type": "line", "strokeWidth": 3.5, "interpolate": "monotone", "clip": true},
          "encoding": {
            "x": {"field": "x", "type": "quantitative", "scale": {"domain": [0, 10], "nice": false, "zero": false},
                  "axis": {"orient": "bottom", "values": [0, 5, 10], "format": "d", "tickSize": -18, "labelPadding": 26, "title": null}},
            "y": {"field": "y", "type": "quantitative", "scale": {"type": "log", "domain": [1e-16, 1e-4], "nice": false},
                  "axis": {"orient": "left", "values": [1e-16, 1e-14, 1e-12, 1e-10, 1e-8, 1e-6, 1e-4], "format": ".0e",
                           "labelExpr": "datum.label == '1e-4' ? '10⁻⁴' : datum.label == '1e-6' ? '10⁻⁶' : datum.label == '1e-8' ? '10⁻⁸' : datum.label == '1e-10' ? '10⁻¹⁰' : datum.label == '1e-12' ? '10⁻¹²' : datum.label == '1e-14' ? '10⁻¹⁴' : '10⁻¹⁶'",
                           "labelFont": "DejaVu Serif", "labelFontSize": 22,
                           "tickSize": -18, "labelPadding": 30, "title": "|ΔN³³|", "titlePadding": 16, "titleY": 252}},
            "color": {"field": "k", "type": "nominal",
                      "scale": {"domain": [2, 3, 4, 5, 6, 7, 8], "range": ["#0000ff", "#ff0000", "#00bfbf", "#800080", "#008000", "#bfbf00", "#000000"]},
                      "legend": {"orient": "bottom-right", "offset": 11, "title": null,
                                 "labelExpr": "'α = 10⁻' + (datum.label == '2' ? '²' : datum.label == '3' ? '³' : datum.label == '4' ? '⁴' : datum.label == '5' ? '⁵' : datum.label == '6' ? '⁶' : datum.label == '7' ? '⁷' : '⁸')",
                                 "symbolType": "stroke", "symbolSize": 1260, "symbolStrokeWidth": 3.5, "symbolOpacity": 1, "symbolOffset": 9,
                                 "labelFont": "Liberation Serif", "labelFontSize": 25, "labelOffset": 24,
                                 "padding": 4, "rowPadding": 0, "strokeColor": "black", "fillColor": "white"}}
          }
        },
        {
          "mark": {"type": "point", "opacity": 0},
          "encoding": {
            "x": {"field": "x", "type": "quantitative", "axis": {"orient": "top", "values": [0, 5, 10], "labels": false, "tickSize": -18, "title": null}},
            "y": {"field": "y", "type": "quantitative", "axis": {"orient": "left", "values": [1e-15, 1e-13, 1e-11, 1e-9, 1e-7, 1e-5], "labels": false, "tickSize": -9, "title": null}}
          }
        },
        {
          "mark": {"type": "point", "opacity": 0},
          "encoding": {
            "x": {"field": "x", "type": "quantitative", "axis": null},
            "y": {"field": "y", "type": "quantitative", "axis": {"orient": "right", "values": [1e-16, 1e-14, 1e-12, 1e-10, 1e-8, 1e-6, 1e-4], "labels": false, "tickSize": -18, "title": null}}
          }
        },
        {
          "mark": {"type": "point", "opacity": 0},
          "encoding": {
            "x": {"field": "x", "type": "quantitative", "axis": null},
            "y": {"field": "y", "type": "quantitative", "axis": {"orient": "right", "values": [1e-15, 1e-13, 1e-11, 1e-9, 1e-7, 1e-5], "labels": false, "tickSize": -9, "title": null}}
          }
        }
      ],
      "resolve": {"axis": {"x": "independent", "y": "independent"}}
    }
  ]
}
